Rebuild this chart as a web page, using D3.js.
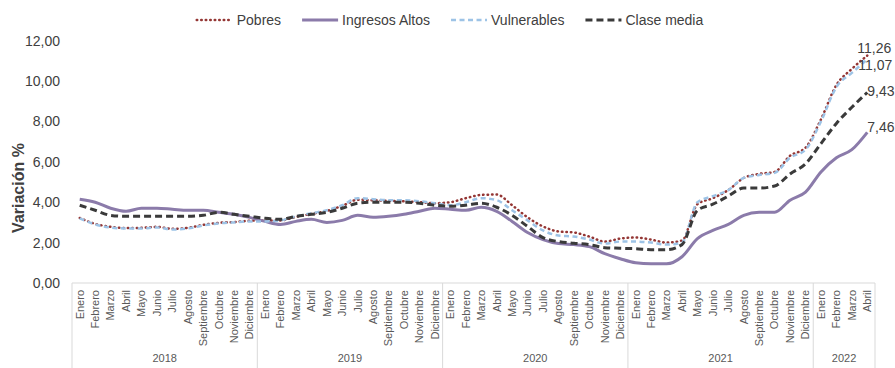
<!DOCTYPE html>
<html>
<head>
<meta charset="utf-8">
<script src="https://cdn.jsdelivr.net/npm/d3@7"></script>
<style>
    body { margin: 0; background: #fff; }
    text { font-family: "Liberation Sans", Arial, sans-serif; }
</style>
</head>
<body>
<div id="chart"></div>
<script>
// categories
const years = [2018, 2019, 2020, 2021, 2022];
const monthsPerYear = [12, 12, 12, 12, 4];
const monthNames = ["Enero", "Febrero", "Marzo", "Abril", "Mayo", "Junio", "Julio",
    "Agosto", "Septiembre", "Octubre", "Noviembre", "Diciembre"];
const yTicks = [0, 2, 4, 6, 8, 10, 12];

// series values (Ene 2018 - Abr 2022)
const pobres = [
    3.22, 2.93, 2.78, 2.72, 2.73, 2.78, 2.68, 2.73, 2.88, 2.98, 3.02, 3.08,
    3.10, 3.10, 3.27, 3.42, 3.57, 3.82, 4.12, 4.10, 4.07, 4.05, 4.00, 3.95,
    4.00, 4.20, 4.36, 4.38, 3.85, 3.25, 2.80, 2.55, 2.50, 2.30, 2.05, 2.20,
    2.25, 2.15, 2.00, 2.10, 3.90, 4.20, 4.60, 5.20, 5.40, 5.50, 6.30, 6.70,
    8.10, 9.80, 10.60, 11.26];
const ingresosAltos = [
    4.15, 4.00, 3.70, 3.55, 3.70, 3.70, 3.65, 3.60, 3.60, 3.50, 3.40, 3.25,
    3.05, 2.90, 3.05, 3.15, 3.00, 3.10, 3.35, 3.25, 3.30, 3.40, 3.55, 3.70,
    3.65, 3.60, 3.75, 3.55, 3.05, 2.50, 2.15, 1.95, 1.90, 1.80, 1.45, 1.20,
    1.00, 0.95, 0.95, 1.30, 2.20, 2.60, 2.90, 3.35, 3.50, 3.50, 4.10, 4.50,
    5.50, 6.20, 6.60, 7.46];
const vulnerables = [
    3.20, 2.90, 2.75, 2.70, 2.70, 2.75, 2.65, 2.70, 2.85, 2.95, 3.00, 3.05,
    3.05, 3.10, 3.30, 3.45, 3.60, 3.85, 4.20, 4.15, 4.10, 4.10, 4.05, 3.95,
    3.85, 4.00, 4.20, 4.10, 3.60, 3.10, 2.60, 2.35, 2.30, 2.15, 1.95, 2.05,
    2.05, 2.00, 1.90, 2.00, 4.00, 4.30, 4.60, 5.20, 5.35, 5.45, 6.20, 6.60,
    8.00, 9.70, 10.40, 11.07];
const claseMedia = [
    3.85, 3.60, 3.35, 3.30, 3.30, 3.30, 3.30, 3.30, 3.35, 3.50, 3.40, 3.30,
    3.20, 3.15, 3.30, 3.40, 3.50, 3.70, 3.95, 4.00, 4.00, 4.00, 3.95, 3.85,
    3.80, 3.85, 3.95, 3.75, 3.35, 2.80, 2.25, 2.05, 1.97, 1.90, 1.75, 1.72,
    1.70, 1.65, 1.65, 1.90, 3.60, 3.90, 4.30, 4.70, 4.70, 4.80, 5.40, 5.90,
    6.90, 7.90, 8.70, 9.43];

function init() {
    var w = 895;
    var h = 368;
    var left = 72, right = 875, axisY = 283;

    var locale = d3.formatLocale({ decimal: ",", thousands: ".", grouping: [3], currency: ["", ""] });
    var fmt = locale.format(".2f");

    // build month categories from the year / month arrays
    var cats = [];
    years.forEach((yr, k) => {
        for (var m = 0; m < monthsPerYear[k]; m++) {
            cats.push({ key: yr + "-" + m, year: yr, month: monthNames[m] });
        }
    });
    var keys = cats.map(d => d.key);

    var svg = d3.select("#chart")
        .append("svg")
        .attr("width", w)
        .attr("height", h)
        .style("background", "#fff");

    var xScale = d3.scaleBand()
        .domain(keys)
        .range([left, right])
        .padding(0);

    var yScale = d3.scaleLinear()
        .domain([0, 12])
        .range([axisY, 40.6]);

    // Y axis labels
    var yAxis = d3.axisLeft(yScale)
        .tickValues(yTicks)
        .tickFormat(fmt)
        .tickSize(0)
        .tickPadding(12);

    svg.append("g")
        .attr("transform", "translate(" + left + ",0)")
        .call(yAxis)
        .call(g => g.select(".domain").remove())
        .selectAll("text")
        .style("font-size", "14px")
        .attr("fill", "#404040");

    // Y title
    svg.append("text")
        .attr("transform", "translate(18,188) rotate(-90)")
        .attr("text-anchor", "middle")
        .attr("dy", "0.35em")
        .style("font-size", "16px")
        .style("font-weight", "bold")
        .attr("fill", "#404040")
        .text("Variación %");

    // category box lines
    svg.append("line")
        .attr("x1", left).attr("x2", right)
        .attr("y1", axisY).attr("y2", axisY)
        .attr("stroke", "#d9d9d9");

    var bounds = [0];
    monthsPerYear.forEach(n => bounds.push(bounds[bounds.length - 1] + n));

    bounds.forEach(b => {
        var x = b < keys.length ? xScale(keys[b]) : right;
        svg.append("line")
            .attr("x1", x).attr("x2", x)
            .attr("y1", axisY).attr("y2", h)
            .attr("stroke", "#d9d9d9");
    });

    // month labels
    var xAxis = d3.axisBottom(xScale)
        .tickSize(0)
        .tickFormat((k, i) => cats[i].month);

    svg.append("g")
        .attr("transform", "translate(0," + axisY + ")")
        .call(xAxis)
        .call(g => g.select(".domain").remove())
        .selectAll("text")
        .attr("transform", "rotate(-90)")
        .attr("text-anchor", "end")
        .attr("x", -7)
        .attr("y", 0)
        .attr("dy", "0.35em")
        .style("font-size", "11px")
        .attr("fill", "#595959");

    // year labels
    years.forEach((yr, k) => {
        var x0 = xScale(keys[bounds[k]]);
        var x1 = bounds[k + 1] < keys.length ? xScale(keys[bounds[k + 1]]) : right;
        svg.append("text")
            .attr("x", (x0 + x1) / 2)
            .attr("y", 362)
            .attr("text-anchor", "middle")
            .style("font-size", "11px")
            .attr("fill", "#595959")
            .text(yr);
    });

    // series
    var series = [
        { name: "Pobres", values: pobres, color: "#943634", width: 2.5, dash: "0.5,4", cap: "round", lab: [-10, -7] },
        { name: "Ingresos Altos", values: ingresosAltos, color: "#8b7baa", width: 3, dash: null, cap: "butt", lab: [0, -5] },
        { name: "Vulnerables", values: vulnerables, color: "#9dc3e6", width: 2.5, dash: "5,3.5", cap: "butt", lab: [-9, 6] },
        { name: "Clase media", values: claseMedia, color: "#3a3a3a", width: 3, dash: "7,4", cap: "butt", lab: [0, -1] }
    ];

    var line = d3.line()
        .x((d, i) => xScale(keys[i]) + xScale.bandwidth() / 2)
        .y(d => yScale(d))
        .curve(d3.curveMonotoneX);

    series.forEach(s => {
        svg.append("path")
            .datum(s.values)
            .attr("fill", "none")
            .attr("stroke", s.color)
            .attr("stroke-width", s.width)
            .attr("stroke-dasharray", s.dash)
            .attr("stroke-linecap", s.cap)
            .attr("d", line);
    });

    // end labels
    var lastX = xScale(keys[keys.length - 1]) + xScale.bandwidth() / 2;
    series.forEach(s => {
        var v = s.values[s.values.length - 1];
        svg.append("text")
            .attr("x", lastX + s.lab[0])
            .attr("y", yScale(v) + s.lab[1])
            .attr("dy", "0.35em")
            .style("font-size", "14px")
            .attr("fill", "#404040")
            .text(fmt(v));
    });

    // legend
    var legend = svg.append("g");
    var lx = 0;
    series.forEach(s => {
        var g = legend.append("g").attr("transform", "translate(" + lx + ",0)");
        g.append("line")
            .attr("x1", 0).attr("x2", 36)
            .attr("y1", 20).attr("y2", 20)
            .attr("stroke", s.color)
            .attr("stroke-width", s.width)
            .attr("stroke-dasharray", s.dash)
            .attr("stroke-linecap", s.cap);
        var t = g.append("text")
            .attr("x", 40)
            .attr("y", 20)
            .attr("dy", "0.35em")
            .style("font-size", "14px")
            .attr("fill", "#404040")
            .text(s.name);
        lx += 40 + t.node().getComputedTextLength() + 21;
    });
    var total = lx - 21;
    legend.attr("transform", "translate(" + (450 - total / 2) + ",0)");
}

window.onload = init;
</script>
</body>
</html>
